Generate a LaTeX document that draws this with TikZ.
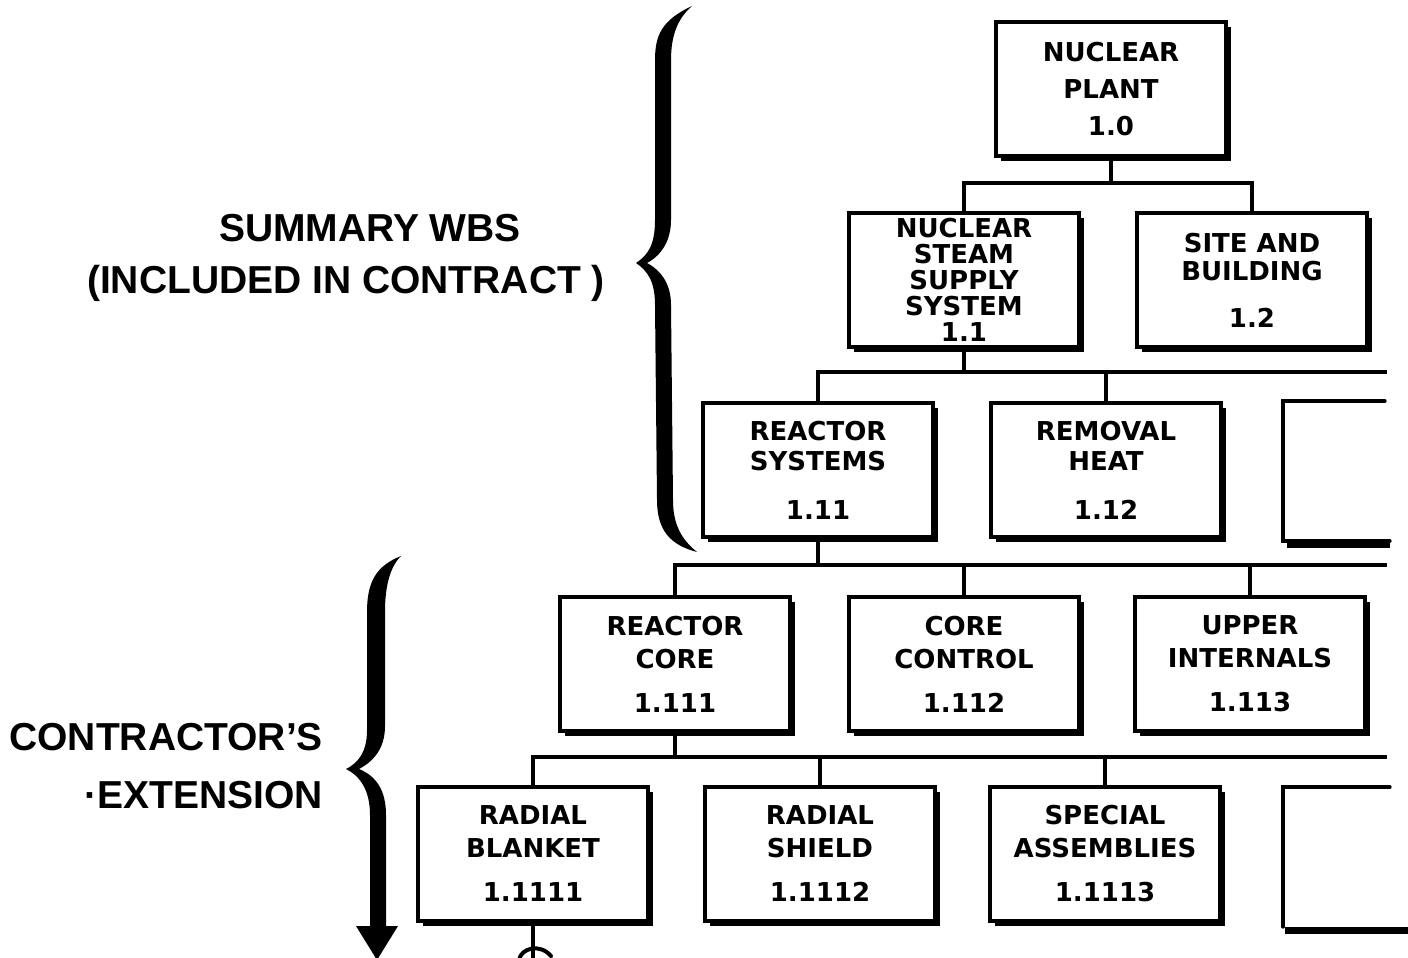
\documentclass[tikz,border=0pt]{standalone}
\usepackage{fontspec}
\setmainfont{Liberation Sans}
\newfontfamily\boxfont{DejaVu Sans}
\usetikzlibrary{shadows}

\begin{document}
\begin{tikzpicture}[
    x=0.5pt, y=-0.5pt,
    every node/.style={font=\bfseries},
    wbsbox/.style={rectangle, draw, line width=1.6pt, fill=white, minimum width=115pt, minimum height=67pt, align=center, inner sep=0pt, font=\boxfont\fontsize{13}{15}\selectfont\bfseries, drop shadow={shadow xshift=2.5pt, shadow yshift=-2.5pt, fill=black, opacity=1}},
    cutbox/.style={line width=1.6pt, line cap=round},
    cutshadow/.style={line width=3.5pt},
    conn/.style={line width=2pt},
    sidelabel/.style={font=\fontsize{19.5}{29}\selectfont\bfseries, align=right},
    bigbrace/.style={fill=black}
]
\useasboundingbox (0,0) rectangle (1408,958);
\clip (0,0) rectangle (1408,958);

% ============ TOP: Plant ============
\node[wbsbox] (plant) at (1111,89) {NUCLEAR\\[3.5pt]PLANT\\[3.5pt]1.0};

% ============ LEVEL 2 ============
\node[wbsbox] (nsss) at (964,280) {NUCLEAR\\[-2pt]STEAM\\[-2pt]SUPPLY\\[-2pt]SYSTEM\\[-2pt]1.1};
\node[wbsbox] (site) at (1252,280) {SITE AND\\[-1pt]BUILDING\\[8.5pt]1.2};

% ============ LEVEL 3 ============
\node[wbsbox] (reasys) at (818,470) {REACTOR\\SYSTEMS\\[9.5pt]1.11};
\node[wbsbox] (heat) at (1106,470) {REMOVAL\\HEAT\\[9.5pt]1.12};
\draw[cutbox] (1385,401) -| (1283,541) -- (1390,541);
\draw[cutshadow] (1287,544) -- (1390,544);

% ============ LEVEL 4 ============
\node[wbsbox] (core) at (675,664) {REACTOR\\[1.5pt]CORE\\[7pt]1.111};
\node[wbsbox] (control) at (964,664) {CORE\\[1.5pt]CONTROL\\[7pt]1.112};
\node[wbsbox] (upper) at (1250,664) {UPPER\\[1.5pt]INTERNALS\\[7pt]1.113};

% ============ LEVEL 5 ============
\node[wbsbox] (blanket) at (533,854) {RADIAL\\[1.5pt]BLANKET\\[7pt]1.1111};
\node[wbsbox] (shield) at (820,854) {RADIAL\\[1.5pt]SHIELD\\[7pt]1.1112};
\node[wbsbox] (special) at (1105,854) {SPECIAL\\[1.5pt]ASSEMBLIES\\[7pt]1.1113};
\draw[cutbox] (1390,787) -| (1283,927);
\draw[cutshadow] (1285,930) -- (1408,930);

% ============ CONNECTORS ============
\coordinate (bus1) at (1108,183);
\draw[conn] (plant.south) -- (plant.south |- bus1);
\draw[conn] (nsss.north) |- (bus1) -| (site.north);

\coordinate (bus2) at (1387,372);
\draw[conn] (nsss.south) -- (nsss.south |- bus2);
\draw[conn] (reasys.north) |- (bus2);
\draw[conn] (heat.north) -- (heat.north |- bus2);

\coordinate (bus3) at (1387,565);
\draw[conn] (reasys.south) -- (reasys.south |- bus3);
\draw[conn] (core.north) |- (bus3);
\draw[conn] (control.north) -- (control.north |- bus3);
\draw[conn] (upper.north) -- (upper.north |- bus3);

\coordinate (bus4) at (1387,757);
\draw[conn] (core.south) -- (core.south |- bus4);
\draw[conn] (blanket.north) |- (bus4);
\draw[conn] (shield.north) -- (shield.north |- bus4);
\draw[conn] (special.north) -- (special.north |- bus4);

% stem leaving the page
\draw[conn] (blanket.south) -- ++(0,40);
\draw[conn, line cap=round] (519,960) .. controls (521,948) and (540,943) .. (551,956);

% ============ BRACES ============
\fill[bigbrace] (692,6) .. controls (662,20) and (655,35) .. (655,60) -- (655,220)
    .. controls (655,245) and (648,255) .. (636,263) .. controls (648,271) and (655,282) .. (655,305)
    -- (657,500) .. controls (657,530) and (670,545) .. (697,552)
    .. controls (682,540) and (673,525) .. (673,500) -- (671,305)
    .. controls (671,285) and (662,271) .. (647,263) .. controls (662,255) and (671,240) .. (671,220)
    -- (671,60) .. controls (671,35) and (678,18) .. (692,6) -- cycle;

\fill[bigbrace] (401,556) .. controls (376,566) and (367,582) .. (367,612) -- (367,730)
    .. controls (367,750) and (360,762) .. (346,769) .. controls (360,776) and (370,790) .. (370,815)
    -- (370,926) -- (356,926) -- (377,960) -- (398,926) -- (386,926) -- (386,815)
    .. controls (386,790) and (376,776) .. (359,769) .. controls (376,760) and (385,746) .. (385,726)
    -- (385,612) .. controls (385,586) and (390,567) .. (401,556) -- cycle;

% ============ SIDE LABELS ============
\node[sidelabel, align=center] (sumwbs) at (370,228) {SUMMARY WBS};
\node[sidelabel, align=center] (incl) at (346,283) {(INCLUDED IN CONTRACT )};
\node[sidelabel, anchor=east] (ext) at (330,766) {CONTRACTOR'S\\·EXTENSION};

\end{tikzpicture}
\end{document}
